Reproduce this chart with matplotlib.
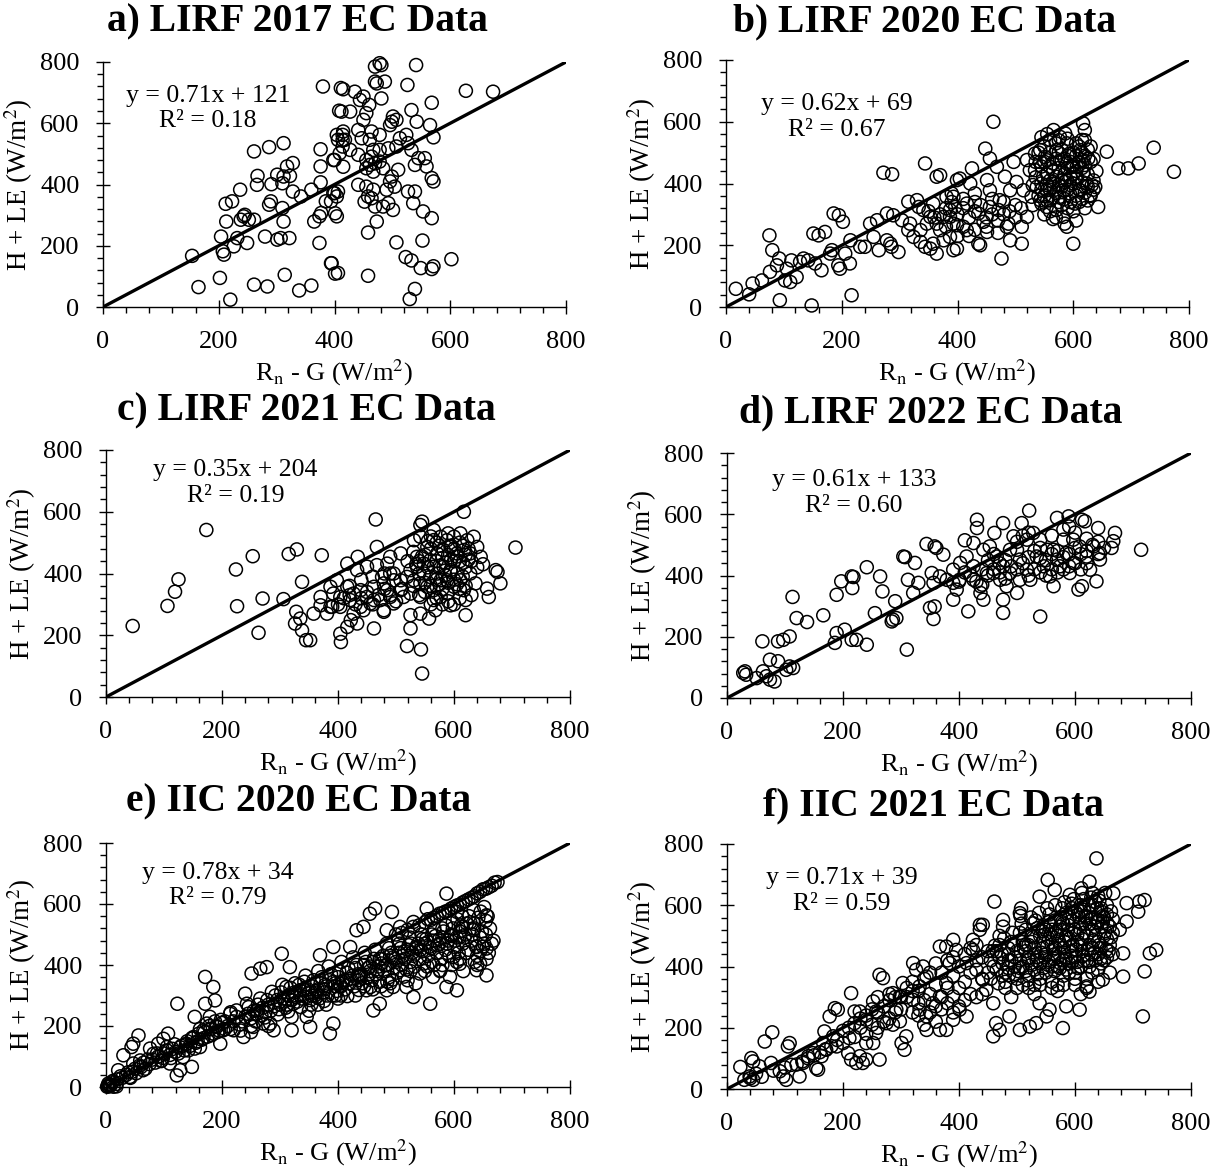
import matplotlib
matplotlib.use("Agg")
import matplotlib.pyplot as plt
import numpy as np

plt.rcParams['font.family'] = ['Liberation Serif', 'DejaVu Serif']
plt.rcParams['mathtext.fontset'] = 'stix'

# (Rn - G, H + LE) pairs for each site-year, W/m2
lirf_2017 = [
    (380, 720), (411, 715), (412, 638), (414, 562), (414, 545), (414, 524), (261, 508), (287, 522),
    (312, 535), (376, 515), (376, 459), (400, 480), (328, 470), (318, 459), (267, 428), (266, 399),
    (301, 432), (291, 401), (310, 404), (312, 426), (323, 428), (376, 407), (360, 383), (342, 361),
    (328, 377), (237, 383), (223, 345), (212, 337), (290, 345), (287, 334), (310, 323), (400, 372),
    (394, 345), (385, 345), (243, 296), (238, 285), (252, 285), (245, 301), (261, 285), (213, 279),
    (312, 279), (365, 279), (374, 296), (377, 307), (204, 230), (232, 225), (226, 198), (249, 209),
    (280, 230), (301, 220), (307, 225), (322, 225), (374, 209), (207, 182), (209, 171), (154, 167),
    (394, 143), (406, 111), (202, 95), (314, 105), (165, 65), (261, 73), (284, 67), (339, 54),
    (360, 70), (220, 24),
    (478, 796), (470, 785), (481, 790), (541, 790), (470, 736), (487, 736), (473, 730), (526, 725),
    (415, 711), (435, 703), (450, 687), (444, 676), (481, 681), (460, 660), (568, 667), (627, 706),
    (674, 703), (408, 641), (427, 638), (533, 643), (455, 633), (450, 611), (501, 622), (499, 605),
    (507, 611), (496, 594), (542, 605), (565, 594), (571, 554), (415, 573), (404, 562), (406, 546),
    (418, 546), (441, 578), (447, 551), (464, 573), (478, 562), (461, 546), (524, 562), (513, 551),
    (527, 535), (507, 524), (493, 518), (478, 513), (467, 513), (427, 513), (409, 502), (533, 513),
    (545, 486), (556, 486), (441, 497), (455, 480), (464, 491), (398, 480), (415, 458), (461, 464),
    (470, 469), (478, 475), (484, 453), (467, 442), (455, 453), (510, 448), (499, 426), (496, 410),
    (504, 393), (490, 383), (539, 464), (559, 459), (568, 421), (571, 410), (441, 399), (455, 393),
    (467, 383), (458, 361), (452, 344), (464, 355), (470, 328), (484, 328), (493, 339), (501, 317),
    (527, 377), (539, 377), (536, 339), (398, 372), (406, 377), (404, 361), (401, 306), (404, 296),
    (553, 312), (568, 290), (473, 279), (458, 243), (507, 211), (552, 217), (523, 163), (533, 152),
    (549, 127), (568, 124), (571, 133), (602, 156), (395, 143), (401, 109), (458, 102), (539, 59),
    (530, 26),
]

lirf_2020 = [
    (17, 59), (40, 41), (46, 76), (62, 86), (75, 232), (76, 114), (80, 184), (92, 157), (93, 22),
    (88, 135), (105, 124), (102, 86), (111, 81), (122, 97), (113, 151), (128, 146), (142, 151),
    (134, 157), (151, 238), (160, 232), (171, 243), (154, 141), (165, 119), (148, 5), (183, 184),
    (180, 173), (194, 135), (197, 124), (214, 141), (206, 173), (186, 303), (195, 297), (202, 276),
    (217, 38), (215, 216), (232, 195), (240, 195), (255, 227), (249, 270), (261, 281), (264, 184),
    (278, 216), (284, 205), (286, 195), (298, 178), (272, 435), (287, 430), (278, 303), (289, 297),
    (304, 281), (315, 341), (330, 346), (333, 324), (318, 270), (315, 249), (324, 227), (336, 211),
    (344, 195), (353, 189), (364, 173), (358, 205), (376, 216), (344, 465), (364, 422), (370, 427),
    (341, 314), (353, 292), (364, 270), (376, 292), (387, 314), (393, 357), (399, 411), (381, 357),
    (358, 335), (347, 270), (336, 249), (370, 249), (393, 270), (387, 227), (393, 184),
    (462, 600), (448, 513), (456, 481), (425, 449), (404, 416), (390, 368), (396, 324), (387, 292),
    (399, 265), (416, 249), (399, 189), (436, 205), (439, 200), (451, 243), (476, 157), (491, 216),
    (511, 205), (445, 276), (436, 303), (456, 324), (473, 346), (491, 378), (502, 405), (482, 422),
    (468, 454), (497, 470), (520, 476), (534, 497), (543, 508), (525, 443), (514, 378), (528, 357),
    (520, 292), (511, 260), (488, 270), (485, 260), (471, 314), (456, 378), (430, 368), (416, 335),
    (422, 400), (451, 411),
    (560, 541), (577, 551), (589, 530), (571, 508), (594, 497), (612, 508), (617, 476), (606, 454),
    (589, 465), (560, 454), (548, 422), (571, 422), (589, 411), (606, 422), (617, 432), (623, 400),
    (612, 378), (594, 368), (577, 357), (560, 346), (543, 346), (554, 324), (571, 314), (583, 292),
    (589, 260), (600, 205), (537, 389), (554, 378), (583, 378), (603, 335), (620, 573), (617, 595),
    (626, 481), (632, 395), (638, 389), (629, 362), (643, 324), (566, 389), (580, 476), (597, 454),
    (615, 541), (586, 562), (566, 573), (551, 486), (534, 443), (543, 470),
    (658, 503), (678, 449), (695, 449), (713, 465), (739, 516), (774, 438),
    (540, 500), (550, 520), (560, 500), (570, 530), (580, 510), (590, 490), (600, 500), (610, 520),
    (620, 490), (630, 470), (640, 440), (535, 420), (545, 400), (555, 430), (565, 440), (575, 450),
    (585, 430), (595, 420), (605, 440), (615, 450), (625, 430), (635, 410), (540, 360), (550, 360),
    (560, 380), (570, 370), (580, 390), (590, 380), (600, 400), (610, 380), (620, 370), (630, 360),
    (550, 300), (560, 310), (570, 290), (580, 330), (590, 320), (600, 310), (610, 340), (620, 320),
    (560, 410), (580, 410), (600, 430), (590, 450), (570, 480), (550, 470), (600, 460), (610, 470),
    (620, 460), (630, 520), (575, 540),
    (400, 300), (410, 320), (420, 290), (430, 310), (440, 330), (450, 290), (460, 300), (470, 280),
    (480, 300), (490, 310), (500, 290), (410, 260), (430, 250), (450, 260), (470, 240), (400, 230),
    (420, 230), (380, 260), (370, 300), (360, 290), (350, 310), (380, 320), (390, 340), (410, 350),
    (430, 340), (460, 350), (480, 340), (500, 330), (510, 320),
    (535, 470), (545, 455), (555, 475), (565, 465), (575, 500), (585, 480), (595, 470), (605, 490),
    (615, 500), (625, 510), (635, 480), (545, 380), (555, 395), (565, 405), (575, 395), (585, 405),
    (595, 395), (605, 415), (615, 405), (625, 390), (635, 380), (545, 335), (555, 345), (565, 355),
    (575, 340), (585, 350), (595, 340), (605, 360), (615, 350), (625, 345), (545, 550), (555, 560),
    (590, 545), (605, 530), (620, 540), (565, 285), (585, 270), (605, 280), (530, 330), (530, 395),
]

lirf_2021 = [
    (46, 230), (106, 295), (119, 341), (125, 381), (173, 541), (224, 413), (226, 294), (253, 456),
    (263, 208), (270, 319), (306, 317), (315, 463), (329, 478), (338, 373), (372, 459), (328, 276),
    (335, 254), (326, 238), (338, 216), (345, 184), (352, 184), (358, 270), (370, 297), (381, 270),
    (390, 292), (370, 324), (387, 357), (398, 378), (404, 205), (405, 178), (416, 227), (434, 454),
    (416, 432), (433, 411), (450, 422), (467, 427), (485, 432), (490, 454), (508, 465), (467, 486),
    (465, 575), (416, 357), (427, 335), (439, 346), (450, 324), (462, 357), (479, 368), (496, 378),
    (508, 346), (490, 324), (473, 314), (456, 303), (439, 292), (421, 314), (404, 324), (392, 335),
    (387, 292), (404, 292), (427, 270), (444, 281), (462, 314), (479, 281), (496, 303), (513, 324),
    (525, 335), (433, 238), (462, 222), (479, 276), (422, 249), (525, 265), (542, 270), (557, 254),
    (525, 222), (519, 165), (543, 154), (545, 76),
    (531, 508), (542, 519), (554, 486), (565, 508), (577, 519), (588, 508), (600, 519), (611, 530),
    (623, 508), (634, 519), (640, 486), (628, 465), (617, 476), (605, 465), (594, 486), (582, 476),
    (571, 465), (559, 443), (548, 432), (536, 422), (525, 411), (519, 389), (531, 378), (542, 368),
    (554, 357), (565, 346), (577, 324), (588, 335), (600, 357), (611, 378), (605, 400), (594, 411),
    (582, 422), (571, 400), (559, 389), (548, 400), (536, 454), (565, 422), (588, 378), (577, 378),
    (565, 314), (542, 324), (628, 400), (637, 368), (617, 346), (620, 314), (594, 297), (568, 281),
    (620, 265), (646, 454), (657, 351), (660, 324), (672, 411), (675, 405), (680, 368), (706, 484),
    (617, 600), (545, 568), (542, 557), (565, 541), (496, 400), (508, 378), (485, 346), (490, 400),
    (476, 389),
    (530, 470), (540, 440), (550, 460), (560, 480), (570, 440), (580, 450), (590, 460), (600, 480),
    (610, 440), (620, 460), (630, 440), (640, 420), (650, 430), (540, 400), (550, 370), (560, 360),
    (570, 380), (580, 350), (590, 370), (600, 380), (610, 350), (620, 360), (630, 330), (550, 340),
    (570, 320), (590, 310), (610, 320), (560, 300), (580, 300), (600, 300), (520, 440), (530, 360),
    (540, 330), (600, 440), (570, 500), (590, 530), (610, 500), (560, 520), (620, 420),
    (400, 300), (410, 320), (420, 330), (430, 300), (440, 320), (450, 340), (460, 300), (470, 330),
    (480, 350), (490, 330), (500, 310), (510, 350), (420, 360), (440, 380), (460, 390), (480, 400),
    (575, 425), (585, 435), (595, 445), (605, 455), (615, 435), (625, 445), (585, 395), (595, 405),
    (605, 365), (615, 390), (575, 365), (555, 420), (545, 455), (535, 430), (555, 505), (575, 490),
    (595, 490), (615, 490), (625, 480),
]

lirf_2022 = [
    (28, 82), (31, 87), (33, 76), (51, 65), (62, 87), (68, 71), (74, 60), (82, 54), (74, 125),
    (88, 120), (102, 92), (108, 103), (114, 98), (61, 185), (88, 185), (97, 190), (108, 201),
    (113, 330), (120, 261), (138, 248), (166, 270), (189, 337), (197, 381), (215, 397), (218, 395),
    (216, 359), (241, 427), (186, 180), (189, 212), (203, 223), (215, 190), (223, 190), (241, 174),
    (255, 277), (264, 397), (268, 348), (290, 316), (284, 250), (286, 256), (292, 261), (310, 158),
    (304, 462), (307, 460), (324, 441), (312, 386), (321, 343), (330, 376), (344, 503), (358, 495),
    (361, 490), (373, 468), (353, 408), (367, 397), (356, 376), (350, 294), (358, 299), (356, 258),
    (390, 321), (396, 354), (401, 386), (416, 283), (410, 515), (431, 582), (431, 555), (425, 386),
    (437, 365), (448, 408), (442, 321), (437, 343),
    (476, 571), (461, 539), (453, 495), (465, 462), (476, 430), (488, 408), (482, 365), (476, 321),
    (476, 278), (500, 343), (505, 386), (517, 419), (508, 571), (521, 612), (528, 539), (540, 517),
    (534, 462), (546, 430), (557, 397), (563, 365), (540, 266), (523, 386),
    (569, 588), (589, 593), (612, 582), (617, 577), (640, 555), (669, 539), (666, 512), (663, 490),
    (632, 495), (620, 462), (643, 452), (637, 381), (606, 354), (612, 365), (591, 408), (574, 430),
    (585, 473), (563, 484), (597, 517), (608, 495), (580, 517), (569, 452), (597, 441), (626, 419),
    (643, 473), (714, 484),
    (540, 457), (552, 484), (517, 517), (500, 484), (488, 484), (505, 452), (459, 408), (471, 386),
    (425, 430), (413, 462), (402, 441), (390, 419), (379, 386), (390, 376), (494, 528), (442, 484),
    (425, 506),
    (440, 420), (450, 450), (460, 470), (470, 440), (480, 450), (490, 430), (500, 420), (510, 440),
    (520, 460), (530, 480), (540, 490), (550, 450), (560, 470), (570, 480), (580, 460), (590, 470),
    (600, 490), (610, 470), (620, 480), (630, 500), (640, 510), (520, 400), (530, 420), (540, 410),
    (550, 400), (560, 420), (570, 410), (580, 420), (590, 430), (600, 440), (610, 420), (620, 440),
    (450, 400), (460, 420), (470, 410), (480, 390), (440, 370), (430, 380), (420, 400), (410, 410),
    (400, 380), (500, 510), (510, 530), (520, 540), (560, 530), (580, 550), (600, 540), (620, 520),
    (590, 560), (640, 470), (650, 490),
]

iic_2020 = [
    (7, 5), (13, 1), (4, 11), (18, 2), (3, 4), (5, 2), (6, 8), (8, 5), (2, 1),
    (21, 55), (30, 104), (44, 131), (47, 142), (56, 169), (47, 77), (59, 87), (41, 33), (64, 55),
    (76, 126), (82, 109), (90, 142), (99, 158), (107, 175), (105, 131), (96, 87), (110, 77),
    (122, 38), (128, 55), (133, 98), (139, 142), (148, 66), (151, 164), (153, 126), (162, 131),
    (168, 186), (174, 208), (171, 273), (185, 328), (171, 361), (188, 284), (123, 273), (153, 230),
    (179, 230), (191, 197), (202, 186), (197, 142), (214, 240), (220, 186), (225, 251), (237, 164),
    (240, 306), (251, 372), (266, 388), (277, 393), (243, 273), (260, 251), (271, 208), (283, 208),
    (289, 186), (254, 197), (303, 437), (317, 393), (311, 328), (323, 273), (320, 186), (346, 230),
    (352, 197), (334, 317), (363, 295), (369, 432), (392, 459), (386, 175), (392, 208), (403, 339),
    (421, 459), (432, 514), (444, 525), (455, 568), (464, 585), (493, 574), (461, 251), (472, 273),
    (449, 317), (438, 361), (484, 514), (507, 525), (530, 541), (553, 585), (587, 634), (605, 574),
    (610, 492), (622, 536), (633, 514), (656, 563), (639, 459), (656, 454), (645, 404), (656, 366),
    (639, 383), (610, 404), (599, 426), (605, 317), (587, 328), (559, 273), (530, 295), (518, 328),
    (495, 328), (484, 317), (507, 383), (541, 372), (564, 361), (576, 383), (593, 361),
    (670, 670), (660, 655), (650, 648), (640, 635), (630, 620), (620, 610), (610, 598), (600, 590),
    (590, 578), (580, 570), (570, 560), (560, 548), (550, 540),
    (210, 200), (220, 215), (230, 205), (240, 230), (250, 225), (255, 250), (260, 240), (270, 260),
    (275, 245), (280, 270), (290, 265), (295, 285), (300, 270), (305, 290), (310, 260), (315, 300),
    (320, 285), (325, 310), (330, 280), (335, 300), (340, 320), (345, 295), (350, 310), (355, 330),
    (360, 300), (365, 320), (370, 340), (375, 310), (380, 330), (385, 350), (390, 300), (395, 340),
    (400, 360), (405, 330), (410, 350), (415, 375), (420, 340), (425, 365), (430, 390), (435, 350),
    (440, 370), (445, 400), (450, 360), (455, 380), (460, 410), (465, 370), (470, 395), (475, 420),
    (480, 380), (485, 400), (490, 430), (495, 390), (500, 410), (505, 440), (510, 400), (515, 420),
    (520, 450), (525, 410), (530, 430), (535, 460), (540, 420), (545, 445), (550, 470), (555, 430),
    (560, 455), (565, 480), (570, 440), (575, 470), (580, 490), (585, 450), (590, 480), (595, 500),
    (600, 460), (605, 490), (610, 510), (615, 470), (620, 500), (625, 450), (630, 480), (635, 520),
    (640, 430), (645, 490), (650, 460), (655, 500), (660, 440), (665, 470),
    (250, 180), (280, 200), (320, 230), (350, 250), (380, 270), (400, 290), (430, 300), (460, 320),
    (490, 340), (520, 350), (550, 380), (580, 400), (610, 420), (640, 400),
    (10, 15), (20, 25), (25, 35), (35, 40), (45, 50), (50, 60), (60, 65), (65, 80), (75, 75),
    (80, 90), (90, 100), (95, 85), (100, 110), (110, 105), (115, 125), (120, 115), (130, 135),
    (135, 120), (140, 150), (145, 135), (150, 160), (155, 145), (160, 175), (165, 155), (170, 180),
    (175, 165), (180, 190), (185, 175), (190, 200), (195, 185), (200, 210), (205, 190),
    (205, 215), (215, 190), (225, 230), (235, 215), (245, 240), (250, 200), (262, 270), (268, 235),
    (278, 285), (284, 250), (292, 300), (298, 255), (302, 310), (308, 280), (312, 270), (318, 325),
    (322, 300), (328, 295), (333, 335), (338, 290), (342, 345), (348, 320), (352, 285), (358, 350),
    (362, 315), (368, 290), (372, 360), (378, 335), (382, 300), (388, 370), (392, 345), (398, 315),
    (402, 380), (408, 345), (412, 320), (418, 390), (422, 355), (428, 330), (432, 400), (438, 365),
    (442, 340), (448, 410), (452, 390), (458, 350), (462, 420), (468, 380), (472, 345), (478, 430),
    (482, 400), (488, 360), (492, 440), (498, 420), (502, 375), (508, 455), (512, 430), (518, 385),
    (522, 465), (528, 440), (532, 395), (538, 470), (542, 450), (548, 405), (552, 485), (558, 460),
    (562, 410), (568, 495), (572, 465), (578, 420), (582, 510), (588, 470), (592, 430), (598, 520),
    (602, 480), (608, 440), (612, 530), (618, 490), (622, 440), (628, 540), (632, 500), (638, 460),
    (642, 555), (648, 510), (652, 470), (658, 560), (662, 520), (668, 480),
    (500, 500), (510, 505), (520, 515), (530, 525), (540, 530), (555, 550), (565, 555), (575, 568),
    (585, 575), (595, 585), (605, 595), (615, 605), (625, 615), (635, 625), (645, 640), (655, 650),
    (665, 660), (675, 672),
    (12, 20), (18, 10), (28, 30), (38, 48), (42, 30), (52, 45), (58, 70), (68, 60), (72, 90),
    (85, 80), (88, 110), (98, 95), (105, 120), (112, 95), (118, 140), (125, 110), (128, 130),
    (138, 140), (142, 120), (148, 160), (158, 150), (162, 190), (168, 160), (178, 200), (182, 170),
    (188, 215), (192, 180), (198, 220),
    (215, 245), (232, 185), (246, 262), (258, 215), (266, 290), (274, 228), (286, 312), (296, 238),
    (304, 335), (314, 248), (326, 340), (336, 262), (344, 365), (354, 270), (366, 380), (376, 282),
    (384, 395), (396, 300), (406, 410), (416, 298), (426, 425), (436, 318), (446, 440), (456, 328),
    (464, 450), (474, 330), (484, 470), (494, 352), (504, 480), (514, 362), (524, 490), (534, 340),
    (544, 500), (554, 395), (566, 520), (576, 380), (586, 530), (596, 400), (606, 550), (616, 380),
    (626, 560), (636, 410), (646, 575), (656, 420), (472, 420), (488, 455), (506, 470), (526, 470),
    (546, 485), (562, 500), (580, 520), (598, 540), (614, 560), (634, 580), (652, 590),
    (355, 300), (375, 320), (395, 330), (415, 350), (435, 370), (455, 395), (475, 405), (495, 425),
    (515, 445), (535, 455), (555, 475), (575, 485), (595, 495), (615, 525), (635, 535), (655, 545),
    (365, 270), (405, 300), (445, 330), (485, 345), (525, 380), (565, 400), (605, 410), (645, 445),
]

iic_2021 = [
    (23, 72), (42, 101), (45, 90), (39, 41), (45, 30), (56, 74), (65, 155), (78, 185), (76, 85),
    (91, 58), (97, 41), (102, 30), (108, 150), (105, 139), (111, 79), (125, 41), (131, 85),
    (140, 107), (148, 117), (154, 68), (157, 63), (163, 107), (166, 150), (171, 128), (168, 188),
    (177, 237), (186, 264), (191, 259), (183, 172), (189, 139), (211, 166), (214, 313), (209, 117),
    (214, 96), (223, 85), (229, 107), (234, 85), (240, 96), (240, 150), (252, 150), (263, 96),
    (257, 183), (263, 373), (269, 362), (252, 286), (257, 253), (240, 226), (229, 253), (220, 253),
    (303, 346), (286, 313), (298, 302), (292, 259), (301, 150), (306, 128), (309, 172), (275, 215),
    (286, 210), (298, 221),
    (321, 411), (326, 389), (338, 400), (344, 367), (332, 335), (321, 291), (332, 259), (344, 237),
    (355, 280), (367, 302), (367, 465), (378, 465), (390, 487), (395, 454), (384, 411), (378, 346),
    (390, 302), (401, 259), (413, 237), (390, 226), (378, 193), (367, 193), (344, 193), (413, 411),
    (424, 487), (441, 536), (436, 520), (424, 454), (430, 389), (441, 357), (447, 324), (459, 280),
    (464, 215), (459, 172), (470, 193), (487, 237), (505, 193), (522, 204), (533, 215), (539, 280),
    (556, 259), (551, 237), (579, 199), (585, 270), (608, 259), (625, 318), (620, 335), (648, 357),
    (683, 367), (717, 237), (720, 384), (729, 443), (740, 454), (683, 443), (677, 520), (689, 547),
    (709, 579), (711, 612), (720, 617), (689, 607), (666, 639), (637, 753), (625, 677), (611, 655),
    (591, 634), (553, 683), (565, 650), (539, 628), (507, 590), (461, 612), (476, 552), (436, 536),
    (476, 530), (505, 574), (528, 541),
    (460, 400), (470, 430), (480, 380), (490, 420), (500, 360), (500, 450), (510, 400), (520, 430),
    (520, 370), (530, 460), (530, 340), (540, 410), (540, 500), (550, 380), (550, 440), (560, 470),
    (560, 350), (560, 520), (570, 400), (570, 430), (570, 500), (580, 460), (580, 540), (580, 370),
    (590, 410), (590, 490), (590, 560), (600, 430), (600, 520), (600, 580), (600, 380), (610, 470),
    (610, 540), (610, 600), (620, 420), (620, 500), (620, 560), (630, 460), (630, 520), (630, 600),
    (640, 440), (640, 550), (640, 480), (650, 500), (650, 420), (650, 560), (660, 470), (660, 530),
    (470, 470), (480, 350), (490, 480), (510, 340), (520, 470), (530, 390), (540, 360), (550, 520),
    (560, 400), (570, 340), (580, 420), (590, 380), (600, 340), (610, 400), (620, 360), (630, 380),
    (640, 390), (450, 380), (440, 360), (430, 420), (420, 380), (410, 350), (400, 330), (390, 370),
    (380, 330), (370, 300), (360, 340), (350, 310), (340, 290), (330, 280), (320, 320), (310, 300),
    (300, 260), (290, 250), (280, 230), (270, 220), (260, 200), (250, 210), (240, 180), (230, 200),
    (220, 170), (200, 150), (190, 160), (180, 140), (170, 130), (160, 120), (150, 110), (140, 100),
    (130, 90), (120, 80), (100, 70), (80, 60), (60, 40), (50, 50), (40, 35), (30, 30),
    (455, 420), (465, 450), (475, 410), (485, 440), (495, 470), (505, 420), (515, 450), (525, 480),
    (535, 430), (545, 460), (555, 490), (565, 440), (575, 470), (585, 500), (595, 450), (605, 480),
    (615, 510), (625, 470), (635, 500), (645, 530), (655, 490), (665, 510), (455, 360), (465, 390),
    (475, 370), (485, 395), (495, 375), (505, 395), (515, 385), (525, 405), (535, 375), (545, 395),
    (555, 415), (565, 385), (575, 410), (585, 390), (595, 415), (605, 395), (615, 420), (625, 400),
    (635, 420), (645, 410), (655, 430), (665, 440), (505, 510), (515, 520), (525, 500), (535, 525),
    (545, 530), (555, 545), (565, 550), (575, 560), (585, 575), (595, 590), (605, 570), (615, 585),
    (625, 600), (635, 610), (645, 590), (655, 570), (665, 555), (625, 540), (635, 560), (645, 580),
    (655, 600), (615, 620), (630, 640), (640, 630), (610, 580), (595, 550), (575, 520), (545, 480),
    (515, 470), (485, 460), (470, 500), (480, 330), (500, 330), (520, 330), (540, 340), (560, 330),
    (580, 340), (600, 360), (620, 330), (640, 350), (660, 380), (490, 300), (530, 310), (570, 320),
    (610, 310),
    (300, 300), (310, 330), (320, 350), (330, 320), (340, 360), (350, 380), (360, 410), (370, 380),
    (380, 420), (390, 430), (400, 400), (410, 440), (420, 460), (430, 470), (440, 430), (450, 450),
    (350, 250), (360, 270), (370, 260), (380, 280), (390, 250), (400, 270), (410, 290), (420, 310),
    (430, 300), (440, 310), (320, 250), (330, 240), (340, 210), (360, 220), (270, 270), (280, 290),
    (290, 300), (260, 250), (250, 260), (240, 240), (230, 230), (220, 215), (210, 200), (200, 190),
    (260, 300), (280, 310),
    (462, 468), (478, 492), (492, 510), (508, 540), (524, 560), (538, 575), (552, 590), (566, 600),
    (582, 610), (598, 620), (612, 640), (628, 625), (642, 615), (652, 640), (468, 345), (486, 372),
    (502, 385), (518, 355), (534, 420), (548, 430), (566, 460), (582, 480), (596, 470), (612, 450),
    (628, 440), (644, 460), (658, 450), (474, 440), (496, 430), (512, 462), (528, 495), (544, 515),
    (558, 505), (574, 530), (588, 520), (604, 505), (618, 540), (634, 530), (648, 545), (662, 580),
    (458, 450), (506, 565), (532, 550), (556, 570), (578, 590), (594, 605), (608, 560), (624, 575),
    (638, 590), (656, 540),
    (542, 445), (552, 465), (562, 455), (572, 485), (582, 445), (592, 465), (602, 455), (612, 490),
    (622, 455), (632, 485), (642, 470), (652, 515), (662, 495), (548, 505), (558, 535), (568, 515),
    (578, 545), (588, 535), (598, 510), (608, 525), (618, 565), (628, 555), (638, 545), (648, 565),
    (554, 405), (564, 425), (574, 395), (584, 425), (594, 435), (604, 415), (614, 435), (624, 415),
    (634, 445), (644, 425), (654, 455), (520, 420), (510, 480), (530, 440), (496, 400), (486, 420),
]

titles = ["a) LIRF 2017 EC Data", "b) LIRF 2020 EC Data", "c) LIRF 2021 EC Data",
          "d) LIRF 2022 EC Data", "e) IIC 2020 EC Data", "f) IIC 2021 EC Data"]
fit_text = ["y = 0.71x + 121\nR² = 0.18", "y = 0.62x + 69\nR² = 0.67",
            "y = 0.35x + 204\nR² = 0.19", "y = 0.61x + 133\nR² = 0.60",
            "y = 0.78x + 34\nR² = 0.79", "y = 0.71x + 39\nR² = 0.59"]
datasets = [lirf_2017, lirf_2020, lirf_2021, lirf_2022, iic_2020, iic_2021]

# axes boxes in pixels (left, top, width, height), title centres and fit-label anchors
W, H = 1222, 1171
boxes_px = [(103, 62, 463, 245), (726, 60, 463, 247),
            (106, 450, 464, 247), (727, 453, 464, 245),
            (106, 843, 464, 244), (727, 844, 464, 245)]
title_px = [(297, 22), (925, 22), (306, 411), (931, 413), (299, 802), (933, 806)]
text_pos = [(181, 648), (192, 615), (223, 693), (219, 670), (193, 660), (198, 647)]

fig = plt.figure(figsize=(W / 100, H / 100), dpi=100)

for i, pts in enumerate(datasets):
    l, t, w, h = boxes_px[i]
    ax = fig.add_axes([l / W, 1 - (t + h) / H, w / W, h / H])
    arr = np.array(pts, dtype=float)
    ax.plot([0, 800], [0, 800], color='black', lw=2.4, zorder=3, solid_capstyle='butt')
    ax.scatter(arr[:, 0], arr[:, 1], s=88, facecolors='none', edgecolors='black',
               linewidths=1.1, zorder=2, clip_on=False)
    ax.set_xlim(0, 800)
    ax.set_ylim(0, 800)
    ax.set_xticks(np.arange(0, 801, 200))
    ax.set_yticks(np.arange(0, 801, 200))
    ax.set_xticks(np.arange(0, 801, 40), minor=True)
    ax.set_yticks(np.arange(0, 801, 40), minor=True)
    ax.tick_params(which='major', direction='inout', length=10, width=1.0, labelsize=19, pad=12)
    ax.tick_params(which='minor', direction='out', length=4.5, width=1.0)
    for s in ['top', 'right']:
        ax.spines[s].set_visible(False)
    for s in ['left', 'bottom']:
        ax.spines[s].set_linewidth(1.0)
    ax.set_xlabel(r"R$_\mathrm{n}$ - G (W/m$^2$)", fontsize=19)
    ax.set_ylabel(r"H + LE (W/m$^2$)", fontsize=19.5)
    ax.xaxis.set_label_coords(0.5, -50 / h)
    ax.yaxis.set_label_coords(-68 / w, 0.5)
    ax.text(text_pos[i][0], text_pos[i][1], fit_text[i], fontsize=18.5, ha='center',
            va='center', multialignment='center', linespacing=1.2)
    fig.text(title_px[i][0] / W, 1 - title_px[i][1] / H, titles[i], fontsize=28.5,
             fontweight='bold', ha='center', va='center')

fig.savefig("out.png", dpi=100)
